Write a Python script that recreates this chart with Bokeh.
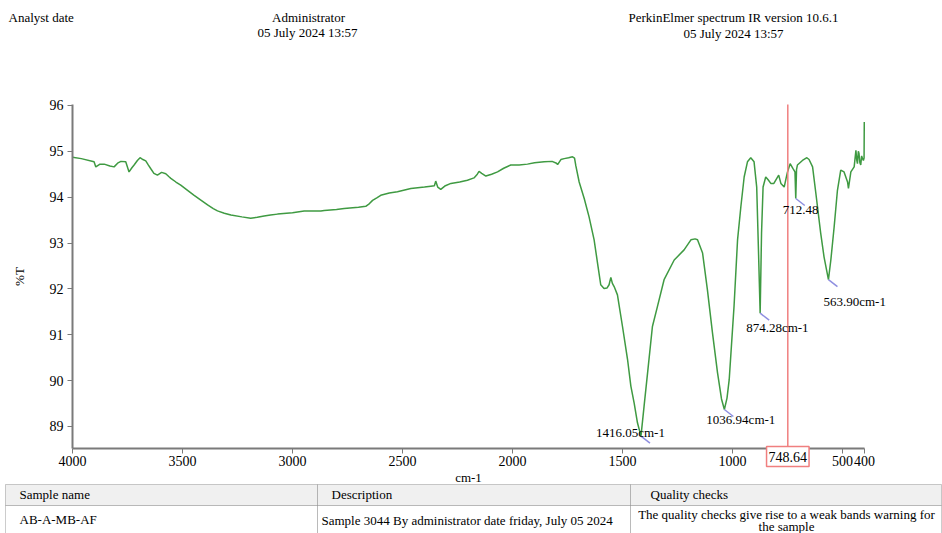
import numpy as np
from bokeh.plotting import figure
from bokeh.models import (Range1d, FixedTicker, Label, LabelSet, BoxAnnotation,
                          ColumnDataSource, LinearAxis)
from bokeh.embed import file_html
from bokeh.resources import INLINE

# ---------------- data ----------------
wavenumber = [4000, 3960, 3902, 3894, 3875, 3856, 3830, 3811, 3795, 3780, 3758, 3743, 3730,
              3720, 3705, 3693, 3680, 3667, 3655, 3644, 3630, 3614, 3595, 3576, 3560, 3553,
              3530, 3508, 3480, 3447, 3415, 3386, 3360, 3341, 3310, 3280, 3230, 3190, 3160,
              3129, 3100, 3068, 3000, 2947, 2917, 2871, 2856, 2800, 2765, 2700, 2667, 2650,
              2636, 2615, 2599, 2560, 2523, 2462, 2400, 2371, 2355, 2349, 2340, 2326, 2305,
              2280, 2240, 2205, 2175, 2160, 2152, 2140, 2121, 2095, 2068, 2040, 2008, 1970,
              1932, 1900, 1856, 1820, 1800, 1795, 1780, 1765, 1745, 1727, 1718, 1712, 1697,
              1674, 1652, 1629, 1611, 1599, 1584, 1570, 1561, 1553, 1546, 1538, 1523, 1500,
              1477, 1462, 1447, 1432, 1416.05, 1402, 1386, 1364, 1341, 1311, 1265, 1220, 1189,
              1170, 1159, 1136, 1114, 1091, 1068, 1050, 1036.94, 1025, 1015, 993, 977, 962,
              947, 932, 917, 902, 890, 882, 874.28, 868, 861, 849, 838, 826, 812, 800, 790,
              780, 765, 757, 750, 738, 725, 716, 712.48, 709, 705, 682, 662, 652, 636, 621,
              599, 584, 563.90, 553, 538, 523, 508, 493, 477, 473, 462, 447, 439, 435, 432,
              428, 425, 421, 417, 413, 409, 405, 402, 401]
transmittance = [94.87, 94.84, 94.77, 94.66, 94.72, 94.72, 94.68, 94.66, 94.74, 94.78, 94.77,
                 94.55, 94.64, 94.70, 94.80, 94.86, 94.82, 94.79, 94.70, 94.62, 94.52, 94.48,
                 94.54, 94.51, 94.44, 94.41, 94.33, 94.26, 94.16, 94.04, 93.93, 93.83, 93.75,
                 93.70, 93.65, 93.61, 93.57, 93.54, 93.56, 93.59, 93.61, 93.63, 93.66, 93.70,
                 93.70, 93.70, 93.71, 93.73, 93.75, 93.78, 93.80, 93.86, 93.93, 93.99, 94.04,
                 94.09, 94.12, 94.19, 94.22, 94.24, 94.25, 94.35, 94.22, 94.17, 94.25, 94.30,
                 94.33, 94.37, 94.42, 94.50, 94.56, 94.52, 94.46, 94.50, 94.55, 94.63, 94.70,
                 94.70, 94.72, 94.75, 94.77, 94.78, 94.74, 94.71, 94.82, 94.84, 94.86, 94.88,
                 94.85, 94.68, 94.33, 93.97, 93.57, 93.07, 92.48, 92.09, 92.01, 92.02, 92.09,
                 92.25, 92.12, 92.05, 91.87, 91.18, 90.46, 89.88, 89.51, 89.08, 88.79, 89.44,
                 90.17, 91.18, 91.62, 92.20, 92.63, 92.85, 93.07, 93.09, 93.07, 92.78, 91.98,
                 91.04, 90.17, 89.60, 89.37, 89.62, 90.02, 91.62, 93.07, 93.79, 94.44, 94.77,
                 94.86, 94.77, 94.22, 92.85, 91.47, 93.22, 94.22, 94.44, 94.38, 94.30, 94.30,
                 94.40, 94.48, 94.30, 94.22, 94.40, 94.55, 94.73, 94.62, 94.55, 93.97, 94.60,
                 94.70, 94.80, 94.86, 94.82, 94.66, 94.08, 93.21, 92.70, 92.20, 92.63, 93.35,
                 94.15, 94.59, 94.55, 94.33, 94.19, 94.55, 94.66, 95.02, 94.80, 94.73, 95.00,
                 94.95, 94.75, 94.70, 94.90, 94.84, 94.80, 94.85, 95.64]

peak_wavenumbers = [1416.05, 1036.94, 874.28, 712.48, 563.90]
peak_labels = ["1416.05cm-1", "1036.94cm-1", "874.28cm-1", "712.48", "563.90cm-1"]
cursor_wavenumber = 748.64
cursor_label = "748.64"

x_ticks = [4000, 3500, 3000, 2500, 2000, 1500, 1000, 500, 400]
y_ticks = [89, 90, 91, 92, 93, 94, 95, 96]
x_bounds = (4000, 400)
y_bounds = (88.52, 96.02)

header_left = "Analyst date"
header_mid = ["Administrator", "05 July 2024 13:57"]
header_right = ["PerkinElmer spectrum IR version 10.6.1", "05 July 2024 13:57"]
table_headers = ["Sample name", "Description", "Quality checks"]
table_row = ["AB-A-MB-AF", "Sample 3044 By administrator date friday, July 05 2024",
             "The quality checks give rise to a weak bands warning for", "the sample"]

# ---------------- layout / style ----------------
W, H = 942, 533
FONT = "Liberation Serif"
GREEN = "#3f9a42"
AX_L, AX_R, AX_T, AX_B = 72, 864, 104, 448     # axis box in canvas pixels
px_x = (AX_R - AX_L) / (x_bounds[0] - x_bounds[1])
px_y = (AX_B - AX_T) / (y_bounds[1] - y_bounds[0])
x_range = Range1d(x_bounds[0] + AX_L / px_x, x_bounds[1] - (W - AX_R) / px_x)
y_range = Range1d(y_bounds[0] - (H - AX_B) / px_y, y_bounds[1] + AX_T / px_y)


def sy(cy):            # canvas y (from top) -> screen units (from bottom of frame)
    return H - cy


p = figure(width=W, height=H, output_backend="svg", toolbar_location=None,
           x_range=x_range, y_range=y_range, x_axis_type=None, y_axis_type=None,
           min_border=0)
p.outline_line_color = None
p.xgrid.visible = False
p.ygrid.visible = False
p.background_fill_color = "white"
p.border_fill_color = "white"

xaxis = LinearAxis(fixed_location=y_bounds[0], bounds=x_bounds,
                   ticker=FixedTicker(ticks=x_ticks), axis_label="cm-1")
yaxis = LinearAxis(fixed_location=x_bounds[0], bounds=y_bounds,
                   ticker=FixedTicker(ticks=y_ticks), axis_label="%T")
p.add_layout(xaxis, "below")
p.add_layout(yaxis, "left")

for ax in (xaxis, yaxis):
    ax.axis_line_color = "#7a7a7a"
    ax.axis_line_width = 2
    ax.major_tick_line_color = "#7a7a7a"
    ax.major_tick_in = 0
    ax.major_tick_out = 5
    ax.minor_tick_line_color = None
    ax.major_label_text_font = FONT
    ax.major_label_text_font_size = "14px"
    ax.major_label_text_color = "black"
    ax.axis_label_text_font = FONT
    ax.axis_label_text_font_style = "normal"
    ax.axis_label_text_font_size = "13px"
    ax.axis_label_text_color = "black"
xaxis.major_label_standoff = 2
xaxis.axis_label_standoff = 1
yaxis.major_label_standoff = 4
yaxis.axis_label_standoff = 20

# spectrum
p.line(wavenumber, transmittance, line_color=GREEN, line_width=1.5)

# cursor line + boxed value
p.segment(x0=[cursor_wavenumber], y0=[y_bounds[0]], x1=[cursor_wavenumber], y1=[y_bounds[1]],
          line_color="#f07f7f", line_width=1.5)
p.add_layout(Label(x=cursor_wavenumber, y=sy(456), y_units="screen", text=cursor_label,
                   text_font=FONT, text_font_size="14px", text_align="center",
                   text_baseline="middle", text_color="black",
                   border_line_color="#f07f7f", border_line_width=1.5,
                   background_fill_color="white", padding=(2, 5)))

# peak markers and labels
peak_T = [float(np.interp(w, wavenumber[::-1], transmittance[::-1])) for w in peak_wavenumbers]
dx_px, dy_px = 9, 7
p.segment(x0=peak_wavenumbers, y0=peak_T,
          x1=[w - dx_px / px_x for w in peak_wavenumbers],
          y1=[t - dy_px / px_y for t in peak_T],
          line_color="#8f8fe0", line_width=1.5)

label_x_off = [-45, -18, -14, -13, -5]
label_y_off = [4, -10, -14, -11, -22]
src = ColumnDataSource(dict(x=peak_wavenumbers, y=peak_T, text=peak_labels,
                            xo=label_x_off, yo=label_y_off))
p.add_layout(LabelSet(x="x", y="y", text="text", source=src, x_offset="xo", y_offset="yo",
                      text_font=FONT, text_font_size="13px", text_align="left",
                      text_baseline="middle", text_color="black"))


def lab(text, cx, cy, align="left", size="13px"):
    p.add_layout(Label(x=cx, y=sy(cy), x_units="screen", y_units="screen", text=text,
                       text_font=FONT, text_font_size=size, text_align=align,
                       text_baseline="middle", text_color="black"))


# header
lab(header_left, 8, 17)
lab(header_mid[0], 308, 17, "center")
lab(header_mid[1], 307, 32, "center")
lab(header_right[0], 733, 17, "center")
lab(header_right[1], 733, 33, "center")

# table
col_edges = [5, 317, 630, 941]
for i in range(3):
    p.add_layout(BoxAnnotation(left=col_edges[i], right=col_edges[i + 1],
                               top=sy(484), bottom=sy(505),
                               left_units="screen", right_units="screen",
                               top_units="screen", bottom_units="screen",
                               fill_color="#f0f0f0", fill_alpha=1.0,
                               line_color="#555555", line_width=1))
    p.add_layout(BoxAnnotation(left=col_edges[i], right=col_edges[i + 1],
                               top=sy(505), bottom=sy(545),
                               left_units="screen", right_units="screen",
                               top_units="screen", bottom_units="screen",
                               fill_color="white", fill_alpha=1.0,
                               line_color="#555555", line_width=1))

lab(table_headers[0], 19, 494)
lab(table_headers[1], 331, 494)
lab(table_headers[2], 650, 494)
lab(table_row[0], 19, 519)
lab(table_row[1], 321, 520)
lab(table_row[2], 786, 514, "center")
lab(table_row[3], 786, 526, "center")

open("out.html", "w").write(file_html(p, INLINE))
